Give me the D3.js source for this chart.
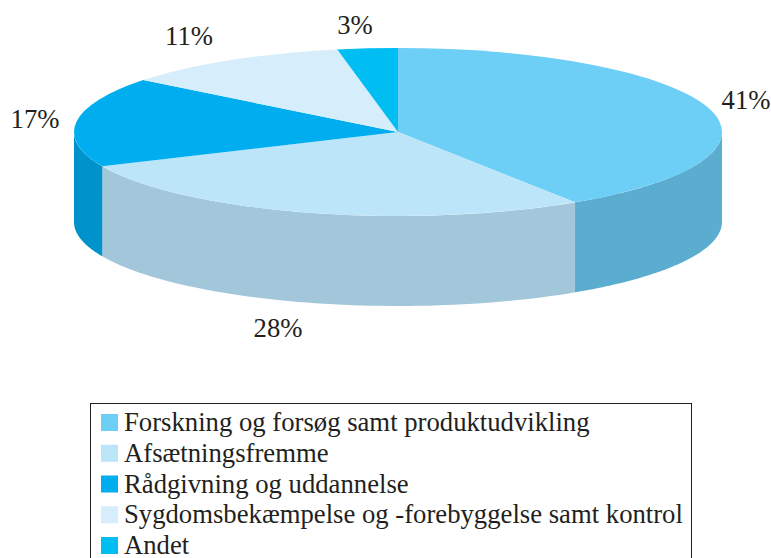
<!DOCTYPE html>
<html><head><meta charset="utf-8">
<script src="https://cdn.jsdelivr.net/npm/d3@7"></script>
<style>html,body{margin:0;padding:0;background:#fff;overflow:hidden}svg{display:block}text{font-family:"Liberation Serif",serif;fill:#231f20}</style>
</head><body><svg id="c" width="771" height="558"></svg>
<script>
const categories=["Forskning og forsøg samt produktudvikling","Afsætningsfremme","Rådgivning og uddannelse","Sygdomsbekæmpelse og -forebyggelse samt kontrol","Andet"];
const percentLabels=["41%","28%","17%","11%","3%"];
const drawnShares=[40.8,27.5,17.3,11.4,3.0];
const topColors=["#6dcff6","#bde5fa","#00aeef","#d6edfb","#00bdf2"];
const sideColors=["#5badd0","#a2c7da","#0093cb","#b5c9d5","#00a0ce"];
const labelPos=[[746,101],[278,329],[35,120],[189,37],[355,26]];
const cx=398,cy=132,rx=324,ry=84,depth=90;
const svg=d3.select("#c");
const arcs=d3.pie().sort(null).value(d=>d)(drawnShares);
const X=a=>cx+rx*Math.sin(a),Y=a=>cy-ry*Math.cos(a);
const area=d3.area().x(X).y0(Y).y1(a=>Y(a)+depth);
arcs.forEach((d,i)=>{
  const s=Math.max(d.startAngle,Math.PI/2),e=Math.min(d.endAngle,Math.PI*1.5);
  if(e<=s)return;
  svg.append("path").attr("d",area(d3.range(0,61).map(k=>s+(e-s)*k/60))).attr("fill",sideColors[i]);
});
const arc=d3.arc().innerRadius(0).outerRadius(rx);
const g=svg.append("g").attr("transform",`translate(${cx},${cy}) scale(1,${ry/rx})`);
g.selectAll("path").data(arcs).join("path").attr("d",arc).attr("fill",(d,i)=>topColors[i]);
svg.selectAll("text.p").data(percentLabels).join("text").attr("class","p")
  .attr("x",(d,i)=>labelPos[i][0]).attr("y",(d,i)=>labelPos[i][1]+8)
  .attr("text-anchor","middle").attr("font-size",26.7).text(d=>d);
svg.append("rect").attr("x",90.5).attr("y",403.5).attr("width",601).attr("height",170).attr("fill","none").attr("stroke","#231f20").attr("stroke-width",1);
const row=d3.scalePoint().domain(categories).range([423,546]);
const lg=svg.selectAll("g.l").data(categories).join("g").attr("class","l").attr("transform",d=>`translate(0,${row(d)})`);
lg.append("rect").attr("x",101).attr("y",-9).attr("width",17).attr("height",17).attr("fill",(d,i)=>topColors[i]);
lg.append("text").attr("x",124).attr("y",8).attr("font-size",26.7).text(d=>d);
</script></body></html>
